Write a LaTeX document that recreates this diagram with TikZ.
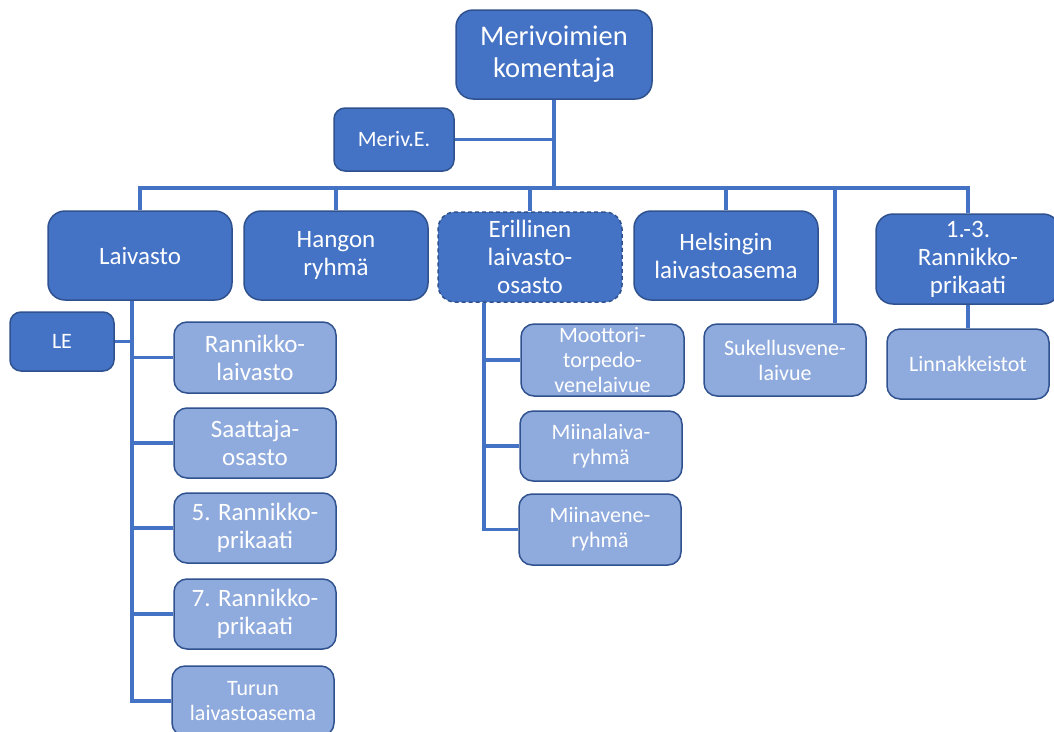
\documentclass[tikz,border=0pt]{standalone}
\usepackage{fontspec}
\setmainfont{Carlito}
\definecolor{boxblue}{HTML}{4472C4}
\definecolor{boxedge}{HTML}{2F528F}
\definecolor{lightblue}{HTML}{8FAADC}

\begin{document}
\begin{tikzpicture}[x=1pt,y=-1pt,
 unit/.style={draw=boxedge, line width=1.5pt, fill=boxblue, text=white, rounded corners=17pt,
   align=center, inner sep=0pt, font=\fontsize{25}{28}\selectfont,
   minimum width=184pt, minimum height=89pt},
 subunit/.style={unit, fill=lightblue, rounded corners=13pt, minimum width=162pt, minimum height=71pt},
 smallsub/.style={subunit, font=\fontsize{22}{25}\selectfont},
 staff/.style={unit, rounded corners=11pt, font=\fontsize{22}{25}\selectfont},
 link/.style={draw=boxblue, line width=3.5pt}]

 \useasboundingbox (0,0) rectangle (1054,731);

 \node[unit, minimum width=196pt, font=\fontsize{28.5}{32}\selectfont] (komentaja) at (554,54.5) {Merivoimien\\komentaja};
 \node[staff, minimum width=120pt, minimum height=63pt] (merive) at (394,139.5) {Meriv.E.};

 \node[unit] (laivasto) at (140,255.5) {Laivasto};
 \node[unit] (hanko) at (336,255.5) {Hangon\\ryhmä};
 \node[unit, dash pattern=on 4pt off 3pt, minimum height=90pt] (erillinen) at (530,257) {Erillinen\\laivasto-\\osasto};
 \node[unit] (helsinki) at (726,255.5) {Helsingin\\laivastoasema};
 \node[unit, minimum height=90pt] (rannikko) at (968,259) {1.-3.\\Rannikko-\\prikaati};

 \node[staff, minimum width=104pt, minimum height=59pt] (le) at (62,341.5) {LE};
 \node[subunit] (rlaivasto) at (255,357.5) {Rannikko-\\laivasto};
 \node[subunit, minimum height=70pt] (saattaja) at (255,443) {Saattaja-\\osasto};
 \node[subunit, minimum height=70pt] (prikaati5) at (255,528) {5. Rannikko-\\prikaati};
 \node[subunit, minimum height=70pt] (prikaati7) at (255,614) {7. Rannikko-\\prikaati};
 \node[smallsub, minimum height=70pt] (turku) at (253,701) {Turun\\laivastoasema};

 \node[smallsub, minimum width=163pt, minimum height=72pt] (moottori) at (602.5,360) {Moottori-\\torpedo-\\venelaivue};
 \node[smallsub, minimum height=70pt] (miinalaiva) at (601,446) {Miinalaiva-\\ryhmä};
 \node[smallsub] (miinavene) at (600,529.5) {Miinavene-\\ryhmä};
 \node[smallsub, minimum height=72pt] (sukellus) at (785,360) {Sukellusvene-\\laivue};
 \node[smallsub, minimum height=70pt] (linnake) at (968,364) {Linnakkeistot};

 \coordinate (bus) at (0,188);
 \coordinate (laivastolinja) at (132,0);
 \coordinate (erillinenlinja) at (484,0);
 \coordinate (sukellusliitos) at (835,188);

 \draw[link] (komentaja.south) -- (komentaja.south |- bus);
 \draw[link] (merive.east) -- (komentaja.south |- merive.east);
 \draw[link] (laivasto.north) -- (laivasto.north |- bus) -- (rannikko.north |- bus) -- (rannikko.north);
 \draw[link] (hanko.north) -- (hanko.north |- bus);
 \draw[link] (erillinen.north) -- (erillinen.north |- bus);
 \draw[link] (helsinki.north) -- (helsinki.north |- bus);
 \draw[link] (sukellusliitos) -- (sukellusliitos |- sukellus.north);
 \draw[link] (rannikko.south) -- (linnake.north);

 \draw[link] (laivastolinja |- laivasto.south) -- (laivastolinja |- turku.west) -- (turku.west);
 \draw[link] (le.east) -- (laivastolinja |- le.east);
 \draw[link] (laivastolinja |- rlaivasto.west) -- (rlaivasto.west);
 \draw[link] (laivastolinja |- saattaja.west) -- (saattaja.west);
 \draw[link] (laivastolinja |- prikaati5.west) -- (prikaati5.west);
 \draw[link] (laivastolinja |- prikaati7.west) -- (prikaati7.west);

 \draw[link] (erillinenlinja |- erillinen.south) -- (erillinenlinja |- miinavene.west) -- (miinavene.west);
 \draw[link] (erillinenlinja |- moottori.west) -- (moottori.west);
 \draw[link] (erillinenlinja |- miinalaiva.west) -- (miinalaiva.west);

\end{tikzpicture}
\end{document}
